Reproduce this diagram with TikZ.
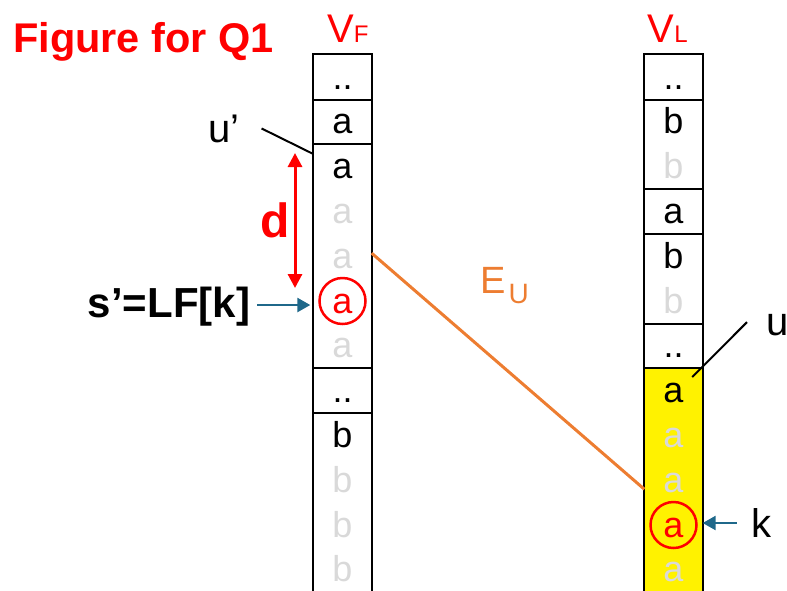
\documentclass[tikz,border=0pt]{standalone}
\usepackage{fontspec}
\setmainfont{Liberation Sans}
\usetikzlibrary{arrows.meta,positioning,calc}
\definecolor{faint}{RGB}{217,217,217}
\definecolor{edgeorange}{RGB}{237,125,49}
\definecolor{pointteal}{RGB}{31,104,138}
\begin{document}
\begin{tikzpicture}[x=1pt,y=-1pt,
  cell/.style={minimum width=58pt,minimum height=44.8pt,inner sep=0pt,text height=24pt,text depth=0pt,font=\fontsize{36}{36}\selectfont},
  ring/.style={circle,draw=red,line width=2.5pt,minimum size=46pt,inner sep=0pt},
  lbl/.style={inner sep=1pt,font=\fontsize{40}{40}\selectfont},
  colline/.style={line width=2pt},
  pointer/.style={line width=2.5pt,draw=pointteal,-{Triangle[length=13pt,width=14pt]}},
  dimarrow/.style={line width=3pt,draw=red,{Triangle[length=14pt,width=14pt]}-{Triangle[length=14pt,width=14pt]}}]
\useasboundingbox (0,0) rectangle (787,590);
% title
\node[anchor=base west,inner sep=0pt,text=red,font=\bfseries\fontsize{41.5}{41.5}\selectfont] (title) at (13,52) {Figure for Q1};
% highlighted run in V_L
\fill[yellow] (644.5,368.2) rectangle (702.5,600);
% column V_F
\foreach \r/\t/\c in {0/../black,1/a/black,2/a/black,3/a/faint,4/a/faint,5/a/red,6/a/faint,7/../black,8/b/black,9/b/faint,10/b/faint,11/b/faint}
  \node[cell,text=\c] (f\r) at (342.5,{77+44.8*\r}) {\t};
% column V_L
\foreach \r/\t/\c in {0/../black,1/b/black,2/b/faint,3/a/black,4/b/black,5/b/faint,6/../black,7/a/black,8/a/faint,9/a/faint,10/a/red,11/a/faint}
  \node[cell,text=\c] (l\r) at (673.5,{77+44.8*\r}) {\t};
\draw[colline] (f0.north west) rectangle (f11.south east);
\draw[colline] (l0.north west) rectangle (l11.south east);
\foreach \r in {0,1,6,7}
  \draw[colline] (f\r.south west) -- (f\r.south east);
\foreach \r in {0,2,3,5,6}
  \draw[colline] (l\r.south west) -- (l\r.south east);
\node[lbl,anchor=base west,inner sep=0pt,text=red] (vf) at (327,42) {V\fontsize{24}{24}\selectfont F};
\node[lbl,anchor=base west,inner sep=0pt,text=red] (vl) at (647.5,42) {V\fontsize{24}{24}\selectfont L};
% circled entries
\node[ring] (fk) at (f5) {};
\node[ring] (lk) at (l10) {};
% edge between the columns
\draw[line width=3pt,edgeorange] ([yshift=3pt]f4.east) -- ([yshift=-9pt]l9.west);
\node[anchor=base west,inner sep=0pt,text=edgeorange,font=\fontsize{38}{38}\selectfont] (eu) at (480,293) {E\kern3pt\raisebox{-10pt}{\fontsize{28}{28}\selectfont U}};
% u' and u
\node[lbl,anchor=base west] (up) at (207,142) {u’};
\draw[colline] ($(up.east)+(21,0)$) -- ($(f2.north west)+(0,10)$);
\node[lbl,anchor=base west] (ul) at (765,335) {u};
\draw[colline] ($(ul.west)+(-18,-2.5)$) -- ($(l7.north east)+(-10.5,9)$);
% d
\coordinate (dtop) at (295,153);
\coordinate (dbot) at (295,288);
\draw[dimarrow] (dtop) -- (dbot) node[midway,left=3pt,inner sep=1pt,text=red,font=\bfseries\fontsize{48}{48}\selectfont] (dl) {d};
% pointers
\node[lbl,font=\bfseries\fontsize{42}{42}\selectfont,left=62pt of f5,yshift=-6pt] (slf) {s’=LF[k]};
\draw[pointer] ($(slf.east)+(6,-2)$) -- ($(f5.west)+(-3,4)$);
\node[lbl,right=48pt of l10,yshift=2pt] (kl) {k};
\draw[pointer] ($(kl.west)+(-14,0)$) -- ([yshift=2pt]l10.east);
\end{tikzpicture}
\end{document}
